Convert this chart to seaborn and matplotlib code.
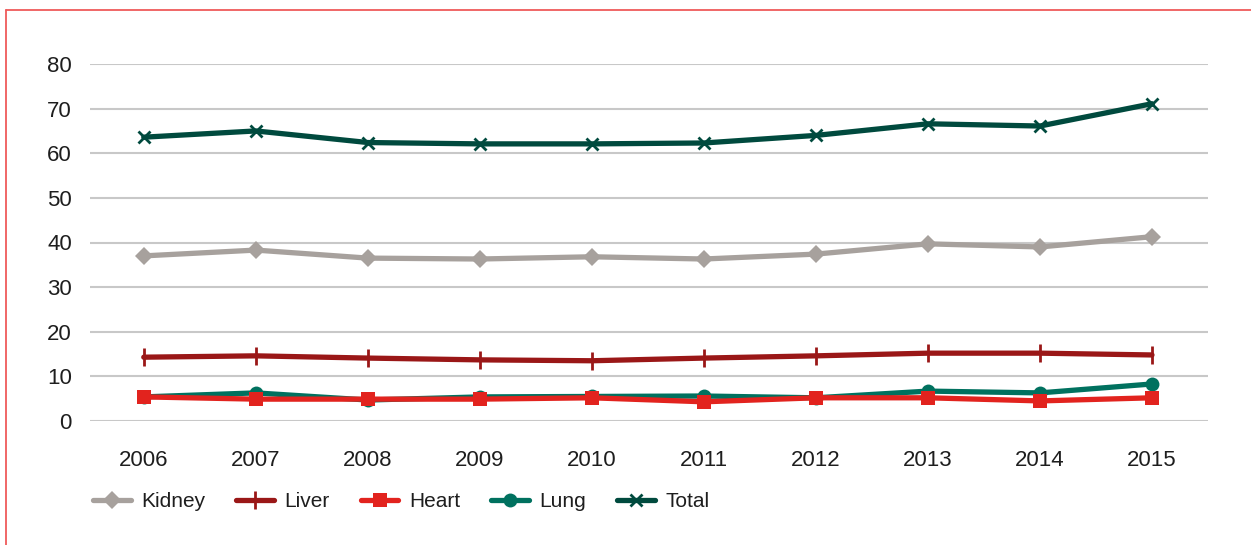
import matplotlib
matplotlib.use("Agg")
import matplotlib.pyplot as plt
import seaborn as sns
import pandas as pd
from matplotlib.lines import Line2D

years = [2006, 2007, 2008, 2009, 2010, 2011, 2012, 2013, 2014, 2015]
kidney = [37.0, 38.3, 36.5, 36.3, 36.8, 36.3, 37.4, 39.7, 39.0, 41.3]
liver = [14.3, 14.6, 14.1, 13.7, 13.5, 14.1, 14.6, 15.2, 15.2, 14.8]
heart = [5.4, 4.9, 4.9, 4.9, 5.2, 4.3, 5.2, 5.2, 4.5, 5.2]
lung = [5.4, 6.3, 4.7, 5.4, 5.5, 5.6, 5.2, 6.7, 6.3, 8.3]
total = [63.6, 65.0, 62.4, 62.1, 62.1, 62.3, 64.0, 66.6, 66.1, 71.1]
series_names = ["Kidney", "Liver", "Heart", "Lung", "Total"]
y_ticks = [0, 10, 20, 30, 40, 50, 60, 70, 80]

sns.set_theme(style="white")
plt.rcParams['font.family'] = ['Liberation Sans', 'DejaVu Sans']

rows = []
for name, vals in zip(series_names, [kidney, liver, heart, lung, total]):
    for i, v in enumerate(vals):
        rows.append({"idx": i, "value": v, "series": name})
df = pd.DataFrame(rows)

styles = {
    "Kidney": dict(color="#A7A19D", marker="D", ms=9, mew=0, z=3),
    "Liver": dict(color="#9A1717", marker="|", ms=13, mew=2, z=4),
    "Heart": dict(color="#E2231E", marker="s", ms=9.5, mew=0, z=6),
    "Lung": dict(color="#00715F", marker="o", ms=10, mew=0, z=5),
    "Total": dict(color="#004A3E", marker="x", ms=9, mew=2, z=3),
}

fig = plt.figure(figsize=(12.51, 5.45), dpi=100)
ax = fig.add_axes([90/1251, 1 - 421/545, (1208-90)/1251, (421-64)/545])

handles = []
for name in series_names:
    s = styles[name]
    sub = df[df["series"] == name]
    sns.lineplot(data=sub, x="idx", y="value", ax=ax, color=s["color"],
                 linewidth=3.8, marker=s["marker"], markersize=s["ms"],
                 markeredgewidth=s["mew"], markeredgecolor=s["color"],
                 markerfacecolor=s["color"], zorder=s["z"], label=name,
                 legend=False)
    handles.append(ax.lines[-1])

ax.set_xlim(-0.48, 9.5)
ax.set_ylim(0, 80)
ax.set_yticks(y_ticks)
ax.set_xticks(range(len(years)))
ax.set_xticklabels([str(y) for y in years])
ax.yaxis.grid(True, color="#C8C8C8", linewidth=1.5)
ax.set_axisbelow(True)
for sp in ax.spines.values():
    sp.set_visible(False)
ax.tick_params(axis="both", length=0, labelsize=16, colors="#1e1e1e")
ax.tick_params(axis="x", pad=21)
ax.tick_params(axis="y", pad=13)
ax.set_xlabel("")
ax.set_ylabel("")

leg = fig.legend(handles=handles, labels=series_names, loc="center left",
                 bbox_to_anchor=(0.0745, 0.079), ncol=5, frameon=False,
                 fontsize=15, handlelength=1.8, handletextpad=0.5,
                 columnspacing=1.5, labelcolor="#1e1e1e", borderaxespad=0,
                 borderpad=0)

border = "#EF5A5A"
fig.add_artist(Line2D([6/1251, 6/1251], [0, 1 - 10/545], transform=fig.transFigure,
                      color=border, linewidth=1.3))
fig.add_artist(Line2D([6/1251, 1], [1 - 10/545, 1 - 10/545], transform=fig.transFigure,
                      color=border, linewidth=1.3))

fig.savefig("out.png", dpi=100)
